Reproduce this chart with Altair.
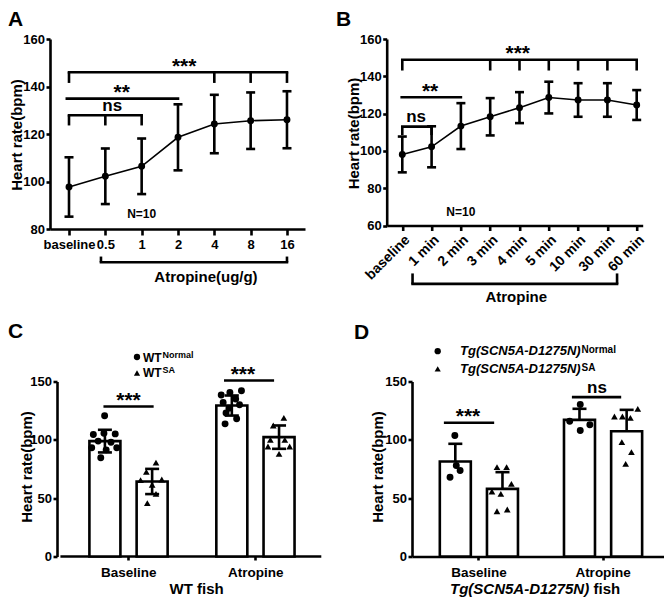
import json
import altair as alt
import pandas as pd

FONT = "Liberation Sans"
BLACK = "#000000"
LW = 2.6

# ---------------- data ----------------
A_LABELS = ["baseline", "0.5", "1", "2", "4", "8", "16"]
A_MEAN = [97.7, 102.2, 106.4, 118.6, 124.2, 125.6, 126.0]
A_SD = [12.5, 11.7, 11.7, 13.9, 12.3, 11.9, 12.0]

B_LABELS = ["baseline", "1 min", "2 min", "3 min", "4 min", "5 min", "10 min", "30 min", "60 min"]
B_MEAN = [98.1, 102.2, 113.3, 118.3, 123.2, 128.6, 127.3, 127.3, 124.6]
B_SD = [9.6, 11.0, 12.3, 10.0, 8.3, 8.5, 9.0, 9.0, 8.0]

GROUPS = ["Baseline", "Atropine"]

C_MEAN_NORMAL = [98.9, 129.4]
C_SD_NORMAL = [9.7, 8.6]
C_MEAN_SA = [64.3, 102.3]
C_SD_SA = [10.8, 10.0]
C_PTS_NORMAL = [[120.6, 104.6, 105.7, 105.1, 98.9, 98.0, 93.2, 93.2, 91.4, 84.6],
                [142.0, 140.5, 138.5, 135.0, 132.0, 130.0, 127.0, 123.0, 118.0, 113.7]]
C_PTS_SA = [[80.5, 72.5, 65.5, 66.0, 61.5, 53.7, 45.8],
            [118.9, 112.3, 100.0, 100.0, 94.3, 94.3, 88.0]]

D_MEAN_NORMAL = [81.4, 117.1]
D_SD_NORMAL = [15.2, 9.5]
D_MEAN_SA = [58.0, 107.4]
D_SD_SA = [14.3, 18.3]
D_PTS_NORMAL = [[103.7, 78.0, 73.7, 68.0],
                [130.3, 116.0, 112.9, 108.0]]
D_PTS_SA = [[76.6, 76.6, 55.7, 62.3, 53.7, 38.8, 40.3],
            [126.6, 120.0, 120.0, 118.9, 98.0, 89.4, 79.4]]

# significance annotations (x in category units, y in bpm)
A_BRACKET_H = [(0, 6, 146.0), (-0.06, 3, 134.9), (0, 2, 127.9), (0.88, 6.0, 66.0)]
A_BRACKET_V = [(0, 146.0, 141.5), (4, 146.0, 141.5), (5, 146.0, 141.5), (6, 146.0, 141.5),
               (0, 127.9, 123.6), (1, 127.9, 123.6), (2, 127.9, 123.6),
               (0.88, 66.0, 68.4), (6.0, 66.0, 68.4)]
A_STARS = [(3.17, 146.0, "***"), (1.45, 134.9, "**")]
A_NS = [(1.19, 127.9, "ns")]

B_BRACKET_H = [(0, 8, 148.9), (-0.02, 2, 128.8), (0, 1, 113.0), (0.35, 7.33, 28.7)]
B_BRACKET_V = [(x, 148.9, 143.1) for x in [0, 3, 4, 5, 6, 7, 8]] + \
              [(0, 113.0, 108.5), (1, 113.0, 108.5), (0.35, 28.7, 34.3), (7.33, 28.7, 34.3)]
B_STARS = [(3.94, 148.9, "***"), (0.95, 128.8, "**")]
B_NS = [(0.47, 113.0, "ns")]

C_SIG_H = [(-0.185, 0.19, 128.6), (0.765, 1.139, 150.9)]
C_STARS = [(0.002, 128.6, "***"), (0.904, 150.9, "***")]
C_NS = []
D_SIG_H = [(-0.268, 0.116, 114.6), (0.763, 1.139, 136.6)]
D_STARS = [(-0.084, 114.6, "***")]
D_NS = [(0.954, 136.6, "ns")]

# horizontal scatter offsets of individual fish (pixels from bar centre)
C_JIT_NORMAL = [[-0.3, -12, -1, 10.7, -7, 6.3, -13.7, 12.3, 1.3, -4.3],
                [10, -2, -11, 4, -9, 8, -3, -6, 5, -7]]
C_JIT_SA = [[4, -6, -12, 10, 0, 4, -5],
            [5, -6, -9, 6, -11.5, 11, 0]]
D_JIT_NORMAL = [[-0.5, 1, 5, -5.5],
                [0.8, -10.2, 10.8, 0.8]]
D_JIT_SA = [[-5.7, 4.3, -11, 9.3, -1.7, -5.7, 5],
            [11.6, -12.7, -4.4, 3.9, -5, 5, -1]]

STAR_DY = -5.5
NS_DY = -9.3


# ---------------- helpers ----------------
def qx(field, sc, ax):
    return alt.X(field, type="quantitative", scale=sc, axis=ax)


def qy(field, sc, ax):
    return alt.Y(field, type="quantitative", scale=sc, axis=ax)


def df_of(rows, cols):
    return pd.DataFrame(rows, columns=cols)


def hrules(rows, sx, sy, ax, ay):
    return alt.Chart(df_of(rows, ["x", "x2", "y"])).mark_rule(
        color=BLACK, strokeWidth=LW, strokeCap="square"
    ).encode(x=qx("x", sx, ax), x2=alt.X2("x2"), y=qy("y", sy, ay))


def vrules(rows, sx, sy, ax, ay):
    return alt.Chart(df_of(rows, ["x", "y", "y2"])).mark_rule(
        color=BLACK, strokeWidth=LW
    ).encode(x=qx("x", sx, ax), y=qy("y", sy, ay), y2=alt.Y2("y2"))


def data_text(rows, sx, sy, ax, ay, size, dy=0.0):
    return alt.Chart(df_of(rows, ["x", "y", "t"])).mark_text(
        font=FONT, fontSize=size, fontWeight="bold", dy=dy, align="center",
        baseline="middle", color=BLACK
    ).encode(x=qx("x", sx, ax), y=qy("y", sy, ay), text="t:N")


def pix_text(t, x, y, size, style="normal", align="left", baseline="middle"):
    return alt.Chart(pd.DataFrame({"t": [t]})).mark_text(
        font=FONT, fontSize=size, fontWeight="bold", fontStyle=style,
        align=align, baseline=baseline, color=BLACK
    ).encode(x=alt.value(x), y=alt.value(y), text="t:N")


def pix_symbol(shape, x, y, size):
    return alt.Chart(pd.DataFrame({"t": [0]})).mark_point(
        shape=shape, filled=True, size=size, color=BLACK, opacity=1
    ).encode(x=alt.value(x), y=alt.value(y))


def yaxis(values, trel, offset=0):
    return alt.Axis(values=values, title="Heart rate(bpm)", titleX=trel[0], titleY=trel[1],
                    titleAngle=270, titleAlign="center", titleBaseline="middle", offset=offset,
                    tickSize=4, labelPadding=1.5, labelOverlap=False, labelFlush=False)


def line_panel(labels, means, sds, xdom, ydom, yticks, width, height, xax_kw, trel,
               bh, bv, stars, nss, notes, letter, lrel):
    n = len(labels)
    df = pd.DataFrame({"x": list(range(n)), "y": means,
                       "lo": [m - s for m, s in zip(means, sds)],
                       "hi": [m + s for m, s in zip(means, sds)]})
    sx = alt.Scale(domain=xdom, nice=False, zero=False)
    sy = alt.Scale(domain=ydom, nice=False, zero=False)
    ax = alt.Axis(values=list(range(n)), labelExpr=json.dumps(labels) + "[datum.value]",
                  title=None, labelOverlap=False, labelFlush=False, **xax_kw)
    ay = yaxis(yticks, trel)
    base = alt.Chart(df)
    layers = [
        base.mark_line(color=BLACK, strokeWidth=1.6).encode(x=qx("x", sx, ax), y=qy("y", sy, ay)),
        base.mark_rule(color=BLACK, strokeWidth=LW).encode(x=qx("x", sx, ax), y=qy("lo", sy, ay), y2=alt.Y2("hi")),
        base.mark_tick(orient="horizontal", size=9, thickness=LW, color=BLACK, opacity=1).encode(x=qx("x", sx, ax), y=qy("lo", sy, ay)),
        base.mark_tick(orient="horizontal", size=9, thickness=LW, color=BLACK, opacity=1).encode(x=qx("x", sx, ax), y=qy("hi", sy, ay)),
        base.mark_point(shape="circle", filled=True, size=48, color=BLACK, opacity=1).encode(x=qx("x", sx, ax), y=qy("y", sy, ay)),
        hrules(bh, sx, sy, ax, ay),
        vrules(bv, sx, sy, ax, ay),
        data_text(stars, sx, sy, ax, ay, 21, dy=STAR_DY),
        data_text(nss, sx, sy, ax, ay, 17, dy=NS_DY),
    ]
    for (x, y, t, s) in notes:
        layers.append(data_text([(x, y, t)], sx, sy, ax, ay, s))
    layers.append(pix_text(letter, lrel[0], lrel[1], 21, baseline="top"))
    return alt.layer(*layers).properties(width=width, height=height)


def bar_panel(mean_n, sd_n, mean_s, sd_s, pts_n, pts_s, jit_n, jit_s, step, off_n, off_s,
              xdom, ydom, width, height, two_sided, sig_h, stars, nss, trel, letter, lrel, extra,
              y_offset=0, x_start=None):
    bars = []
    pts = []
    for g in range(len(GROUPS)):
        for m, s, off in ((mean_n[g], sd_n[g], off_n), (mean_s[g], sd_s[g], off_s)):
            bars.append({"x": g + off / step, "y": m, "lo": (m - s) if two_sided else m, "hi": m + s})
        for v, j in zip(pts_n[g], jit_n[g]):
            pts.append({"x": g + (off_n + j) / step, "y": v, "k": "n"})
        for v, j in zip(pts_s[g], jit_s[g]):
            pts.append({"x": g + (off_s + j) / step, "y": v, "k": "s"})
    bdf = pd.DataFrame(bars)
    pdf = pd.DataFrame(pts)
    sx = alt.Scale(domain=xdom, nice=False, zero=False)
    sy = alt.Scale(domain=ydom, nice=False, zero=False)
    ax = alt.Axis(values=[0, 1], labelExpr=json.dumps(GROUPS) + "[datum.value]", title=None,
                  labelOverlap=False, labelFlush=False, tickSize=3.5, labelPadding=5, labelFontSize=13.5,
                  domain=x_start is None)
    ay = yaxis([0, 50, 100, 150], trel, offset=y_offset)
    bb = alt.Chart(bdf)
    layers = []
    if x_start is not None:
        # x-axis base line starting where the (offset) y axis sits
        layers.append(hrules([(x_start, xdom[1], ydom[0])], sx, sy, ax, ay))
    layers += [
        bb.mark_bar(orient="vertical", size=31, fill="white", stroke=BLACK, strokeWidth=LW).encode(
            x=qx("x", sx, ax), y=qy("y", sy, ay)),
        bb.mark_rule(color=BLACK, strokeWidth=LW).encode(x=qx("x", sx, ax), y=qy("lo", sy, ay), y2=alt.Y2("hi")),
        bb.mark_tick(orient="horizontal", size=14, thickness=LW, color=BLACK, opacity=1).encode(
            x=qx("x", sx, ax), y=qy("hi", sy, ay)),
    ]
    if two_sided:
        layers.append(bb.mark_tick(orient="horizontal", size=14, thickness=LW, color=BLACK, opacity=1).encode(
            x=qx("x", sx, ax), y=qy("lo", sy, ay)))
    pb = alt.Chart(pdf)
    layers += [
        pb.transform_filter("datum.k == 'n'").mark_point(shape="circle", filled=True, size=48, color=BLACK, opacity=1).encode(
            x=qx("x", sx, ax), y=qy("y", sy, ay)),
        pb.transform_filter("datum.k == 's'").mark_point(shape="triangle-up", filled=True, size=45, color=BLACK, opacity=1).encode(
            x=qx("x", sx, ax), y=qy("y", sy, ay)),
        hrules(sig_h, sx, sy, ax, ay),
    ]
    if stars:
        layers.append(data_text(stars, sx, sy, ax, ay, 21, dy=STAR_DY))
    if nss:
        layers.append(data_text(nss, sx, sy, ax, ay, 17, dy=NS_DY))
    layers += extra
    layers.append(pix_text(letter, lrel[0], lrel[1], 21, baseline="top"))
    return alt.layer(*layers).properties(width=width, height=height)


# ---------------- panels ----------------
panel_a = line_panel(
    A_LABELS, A_MEAN, A_SD, [-0.523, 6.496], [80, 160], [80, 100, 120, 140, 160], 255, 190,
    dict(tickSize=6, labelPadding=3), (-33.3, 95.5),
    A_BRACKET_H, A_BRACKET_V, A_STARS, A_NS,
    [(2, 86.3, "N=10", 12), (3.77, 59.6, "Atropine(ug/g)", 15)],
    "A", (-42, -30.5))

panel_b = line_panel(
    B_LABELS, B_MEAN, B_SD, [-0.532, 8.205], [60, 160], [60, 80, 100, 120, 140, 160], 256, 186.5,
    dict(tickSize=5, labelPadding=2, labelAngle=-45, labelAlign="right", labelBaseline="top",
         labelFontSize=14),
    (-33.4, 94),
    B_BRACKET_H, B_BRACKET_V, B_STARS, B_NS,
    [(2, 67.5, "N=10", 12), (3.89, 21.4, "Atropine", 15)],
    "B", (-50.7, -30.5))

c_extra = [
    pix_symbol("circle", 87, -24.5, 40),
    pix_text("WT", 93, -24, 12),
    pix_text("Normal", 112.5, -30.7, 9, baseline="top"),
    pix_symbol("triangle-up", 87, -8.5, 38),
    pix_text("WT", 93, -8.5, 12),
    pix_text("SA", 112.5, -15.2, 9, baseline="top"),
    pix_text("WT fish", 146.7, 207.5, 15, align="center"),
]
# panel C's plot area starts 7px left of its y axis (shared left edge with panel A)
panel_c = bar_panel(
    C_MEAN_NORMAL, C_SD_NORMAL, C_MEAN_SA, C_SD_SA, C_PTS_NORMAL, C_PTS_SA, C_JIT_NORMAL, C_JIT_SA,
    131.7, -24.2, 24.8, [-0.577, 1.511], [0, 150], 275, 175, True,
    C_SIG_H, C_STARS, C_NS, (-30.3, 85), "C", (-42, -61), c_extra,
    y_offset=-7, x_start=-0.524)

d_extra = [
    pix_symbol("circle", 25.7, -30.3, 40),
    pix_text("Tg(SCN5A-D1275N)", 48, -30.3, 13, style="italic"),
    pix_text("Normal", 169.5, -37, 10, baseline="top"),
    pix_symbol("triangle-up", 25.7, -12.7, 38),
    pix_text("Tg(SCN5A-D1275N)", 48, -12.7, 13, style="italic"),
    pix_text("SA", 169.5, -19, 10, baseline="top"),
    pix_text("Tg(SCN5A-D1275N)", 38, 207.5, 15, style="italic"),
    pix_text("fish", 181.5, 207.5, 15),
]
panel_d = bar_panel(
    D_MEAN_NORMAL, D_SD_NORMAL, D_MEAN_SA, D_SD_SA, D_PTS_NORMAL, D_PTS_SA, D_JIT_NORMAL, D_JIT_SA,
    129.3, -24.1, 25.0, [-0.495, 1.454], [0, 150], 252, 175, False,
    D_SIG_H, D_STARS, D_NS, (-34.3, 85), "D", (-58, -59.5), d_extra)

row1 = alt.hconcat(panel_a, panel_b, spacing=81.7, bounds="flush")
row2 = alt.hconcat(panel_c, panel_d, spacing=87, bounds="flush")

chart = alt.vconcat(row1, row2, spacing=14.5).properties(padding=0).configure_axis(
    domainColor=BLACK, domainWidth=LW, tickColor=BLACK, tickWidth=LW, grid=False,
    labelColor=BLACK, labelFont=FONT, labelFontSize=13, labelFontWeight="bold",
    titleColor=BLACK, titleFont=FONT, titleFontSize=15, titleFontWeight="bold"
).configure_view(stroke=None)

chart.save("out.html", embed_options={"renderer": "svg", "actions": False})
